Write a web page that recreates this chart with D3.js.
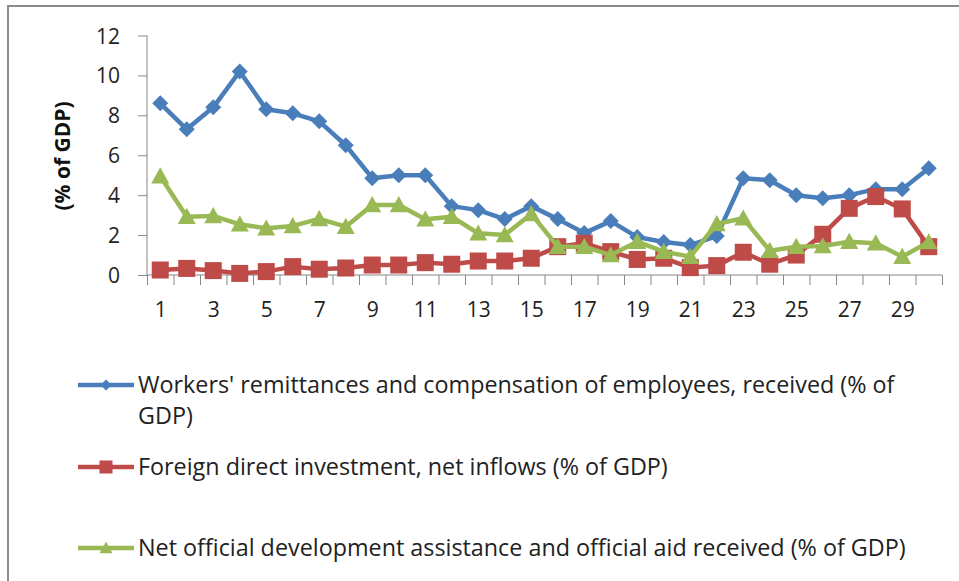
<!DOCTYPE html>
<html><head><meta charset="utf-8">
<script src="https://cdn.jsdelivr.net/npm/d3@7"></script>
<style>body{margin:0;background:#fff}svg{display:block}</style>
</head><body>
<svg id="c" width="959" height="581"></svg>
<script>
const categories = d3.range(1, 31);
const remittances = [8.6,7.3,8.4,10.2,8.3,8.1,7.7,6.5,4.85,5.0,5.0,3.45,3.25,2.8,3.45,2.8,2.1,2.7,1.9,1.65,1.5,1.95,4.85,4.75,4.0,3.85,4.0,4.3,4.3,5.35];
const fdi = [0.25,0.33,0.22,0.08,0.17,0.42,0.29,0.35,0.5,0.5,0.62,0.54,0.7,0.7,0.84,1.42,1.59,1.17,0.78,0.84,0.37,0.47,1.14,0.54,1.0,2.04,3.34,3.93,3.31,1.42];
const oda = [4.95,2.92,2.96,2.54,2.34,2.46,2.81,2.42,3.51,3.51,2.79,2.92,2.09,2.0,3.06,1.42,1.42,1.0,1.67,1.17,0.92,2.56,2.84,1.22,1.42,1.45,1.67,1.59,0.92,1.65];
const yTicks = [0,2,4,6,8,10,12];
const xLabels = [1,3,5,7,9,11,13,15,17,19,21,23,25,27,29];
const seriesNames = [
  ["Workers' remittances and compensation of employees, received (% of", "GDP)"],
  ["Foreign direct investment, net inflows (% of GDP)"],
  ["Net official development assistance and official aid received (% of GDP)"]
];
const yTitle = "(% of GDP)";

const colors = ["#4a7ebb", "#be4b48", "#98b954"];
const shapes = ["diamond", "square", "triangle"];
const series = [remittances, fdi, oda];

const svg = d3.select("#c");
const FONT = "'Open Sans', 'Liberation Sans', sans-serif";
const axisColor = "#868686";

// chart border
svg.append("rect").attr("x", 8).attr("y", 6).attr("width", 980).attr("height", 600)
  .attr("fill", "none").attr("stroke", "#8c8c8c").attr("stroke-width", 2);

const x = d3.scaleLinear().domain([0.5, 30.5]).range([147, 942]);
const y = d3.scaleLinear().domain([0, 12]).range([275, 35.5]);

// Y axis
const yAxis = svg.append("g").attr("transform", "translate(147,0)")
  .call(d3.axisLeft(y).tickValues(yTicks).tickSize(9).tickPadding(18).tickFormat(d3.format("d")));
yAxis.selectAll("line").attr("stroke", axisColor);
yAxis.select(".domain").attr("stroke", axisColor).attr("d", `M0,${y(12)}V${y(0)}`);
yAxis.selectAll("text").attr("font-family", FONT).attr("font-size", 21).attr("fill", "#222").attr("dy", "0.36em");

// X axis tick marks at category boundaries
const xAxis = svg.append("g").attr("transform", `translate(0,${y(0)})`)
  .call(d3.axisBottom(x).tickValues(d3.range(0.5, 31, 1)).tickSize(10).tickFormat(""));
xAxis.selectAll("line").attr("stroke", axisColor);
xAxis.select(".domain").attr("stroke", axisColor).attr("d", `M${x(0.5)},0H${x(30.5)}`);
// X labels
const xLab = svg.append("g").attr("transform", `translate(0,${y(0)})`)
  .call(d3.axisBottom(x).tickValues(xLabels).tickSize(0).tickPadding(36).tickFormat(d3.format("d")));
xLab.select(".domain").remove();
xLab.selectAll("text").attr("font-family", FONT).attr("font-size", 21).attr("fill", "#222").attr("dy", "0.3em");

// Y title
svg.append("text").attr("transform", `translate(70,156) rotate(-90)`)
  .attr("text-anchor", "middle").attr("font-family", FONT).attr("font-size", 21)
  .attr("font-weight", "bold").attr("fill", "#111").text(yTitle);

function marker(g, shape, color, size) {
  if (shape === "diamond") {
    const s = size / 2;
    g.append("path").attr("d", `M0,${-s}L${s},0L0,${s}L${-s},0Z`).attr("fill", color);
  } else if (shape === "square") {
    const s = size / 2;
    g.append("rect").attr("x", -s).attr("y", -s).attr("width", size).attr("height", size).attr("fill", color);
  } else {
    const w = size / 2, h = size * 0.9;
    g.append("path").attr("d", `M0,${-h * 0.55}L${w},${h * 0.45}L${-w},${h * 0.45}Z`).attr("fill", color);
  }
}

const line = d3.line().x((d, i) => x(categories[i])).y(d => y(d));
const msizes = [16, 17, 18];
series.forEach((vals, si) => {
  const g = svg.append("g");
  g.append("path").datum(vals).attr("d", line).attr("fill", "none")
    .attr("stroke", colors[si]).attr("stroke-width", 4.5).attr("stroke-linejoin", "round");
  vals.forEach((v, i) => {
    const m = g.append("g").attr("transform", `translate(${x(categories[i])},${y(v)})`);
    marker(m, shapes[si], colors[si], msizes[si]);
  });
});

// Legend
const legY = [385, 467, 548];
const leg = svg.append("g");
const texts = [];
seriesNames.forEach((lines, si) => {
  const g = leg.append("g").attr("transform", `translate(0,${legY[si]})`);
  g.append("line").attr("x1", 78).attr("x2", 134).attr("y1", 0).attr("y2", 0)
    .attr("stroke", colors[si]).attr("stroke-width", 4.5);
  const m = g.append("g").attr("transform", "translate(106,0)");
  marker(m, shapes[si], colors[si], si === 0 ? 11 : 13);
  lines.forEach((t, li) => {
    texts.push(g.append("text").attr("x", 138).attr("y", 8 + li * 31)
      .attr("font-family", FONT).attr("font-size", 20).attr("fill", "#222").text(t));
  });
});
// fit the legend font size so the first line spans to the reference right edge
const w0 = texts[0].node().getComputedTextLength();
const fs = 20 * (895 - 138) / w0;
texts.forEach(t => t.attr("font-size", fs));
</script>
</body></html>
